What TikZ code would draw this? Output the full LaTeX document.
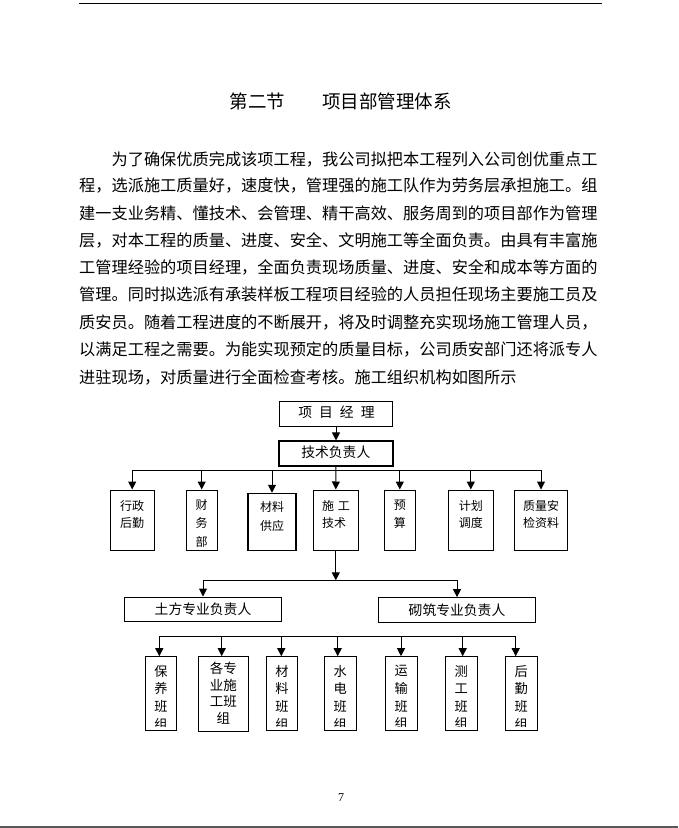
\documentclass[tikz,border=0pt]{standalone}
\usepackage{fontspec}
\newfontfamily\cjk{Noto Sans CJK SC}
\newfontfamily\tnr{Liberation Serif}
\usetikzlibrary{arrows.meta}
\begin{document}
\begin{tikzpicture}[x=1pt,y=-1pt,
  body/.style={inner sep=0pt, anchor=west, font=\cjk\fontsize{16.2pt}{16.2pt}\selectfont},
  box/.style={draw, line width=1.1pt, inner sep=0pt},
  head/.style={inner sep=0pt, font=\cjk\fontsize{13.8pt}{16pt}\selectfont},
  small/.style={inner sep=0pt, align=center, font=\cjk\fontsize{12pt}{17.8pt}\selectfont},
  vert/.style={inner sep=0pt, align=center, font=\cjk\fontsize{13.2pt}{17.6pt}\selectfont},
  ln/.style={line width=1pt},
  arr/.style={line width=1pt, -{Triangle[width=8pt,length=8pt]}}
]
\useasboundingbox (0,0) rectangle (678,828);

% rules
\coordinate (tl) at (79,3.5);
\coordinate (tr) at (602,3.5);
\draw[line width=1pt] (tl) -- (tr);
\coordinate (bl) at (0,826.8);
\coordinate (br) at (678,826.8);
\draw[line width=1.6pt, black!65] (bl) -- (br);

% title
\node[inner sep=0pt, font=\cjk\fontsize{18.5pt}{18.5pt}\selectfont] (title) at (340.5,101) {第二节　　项目部管理体系};

% body text
\node[body] (p1) at (111.4,159) {为了确保优质完成该项工程，我公司拟把本工程列入公司创优重点工};
\node[body] (p2) at (79,186) {程，选派施工质量好，速度快，管理强的施工队作为劳务层承担施工。组};
\node[body] (p3) at (79,213) {建一支业务精、懂技术、会管理、精干高效、服务周到的项目部作为管理};
\node[body] (p4) at (79,240) {层，对本工程的质量、进度、安全、文明施工等全面负责。由具有丰富施};
\node[body] (p5) at (79,267.5) {工管理经验的项目经理，全面负责现场质量、进度、安全和成本等方面的};
\node[body] (p6) at (79,294.5) {管理。同时拟选派有承装样板工程项目经验的人员担任现场主要施工员及};
\node[body] (p7) at (79,322) {质安员。随着工程进度的不断展开，将及时调整充实现场施工管理人员，};
\node[body] (p8) at (79,349.5) {以满足工程之需要。为能实现预定的质量目标，公司质安部门还将派专人};
\node[body] (p9) at (79,377) {进驻现场，对质量进行全面检查考核。施工组织机构如图所示};

% level 1 and 2
\node[box, minimum width=113.4pt, minimum height=24.3pt] (pm) at (336,413.9) {};
\node[head] (pmt) at (336.5,412.5) {项\hspace{7pt}目\hspace{7pt}经\hspace{7pt}理};
\node[box, minimum width=114pt, minimum height=25pt] (tech) at (336,453.5) {};
\node[head] (techt) at (335.8,452.5) {技术负责人};
\draw[arr] (pm.south) -- (tech.north);

% level 3 boxes
\node[box, minimum width=44.3pt, minimum height=60.3pt] (xz) at (132.2,520.2) {};
\node[box, minimum width=31.3pt, minimum height=60.3pt] (cw) at (201.7,520.2) {};
\node[box, minimum width=48pt, minimum height=57pt] (cl) at (272,521.8) {};
\node[box, minimum width=45pt, minimum height=60.3pt] (sg) at (335.8,520.2) {};
\node[box, minimum width=31pt, minimum height=60.3pt] (ys) at (399.8,520.2) {};
\node[box, minimum width=45pt, minimum height=60.3pt] (jh) at (470.8,520.2) {};
\node[box, minimum width=53.4pt, minimum height=60.3pt] (zl) at (541,520.2) {};

\node[small] (xzt) at (132.2,514.5) {行政\\后勤};
\node[small, font=\cjk\fontsize{12pt}{18.3pt}\selectfont] (cwt) at (201.7,523.3) {财\\务\\部};
\node[small, font=\cjk\fontsize{12pt}{19pt}\selectfont] (clt) at (272,516.5) {材料\\供应};
\node[small, align=left] (sgt) at (336,514.5) {施\hspace{4pt}工\\技术};
\node[small] (yst) at (399.8,514.5) {预\\算};
\node[small] (jht) at (470.8,514.5) {计划\\调度};
\node[small] (zlt) at (541,514.5) {质量安\\检资料};

\coordinate (bus1L) at (132.2,470.3);
\coordinate (bus1R) at (541,470.3);
\draw[ln] (bus1L) -- (bus1R);
\draw[arr] (tech.south) -- (sg.north);
\foreach \n in {xz,cw,cl,ys,jh,zl}
  \draw[arr] (\n.north |- bus1L) -- (\n.north);

% level 4
\node[box, minimum width=157.4pt, minimum height=24.3pt] (tf) at (203,609.2) {};
\node[head] (tft) at (203,609.3) {土方专业负责人};
\node[box, minimum width=157.4pt, minimum height=24.6pt] (qz) at (457,610) {};
\node[head] (qzt) at (457,610) {砌筑专业负责人};

\coordinate (bus2L) at (203,580.3);
\coordinate (bus2R) at (457,580.3);
\draw[ln] (bus2L) -- (bus2R);
\draw[arr] (sg.south) -- (sg.south |- bus2L);
\draw[arr] (bus2L) -- (tf.north);
\draw[arr] (bus2R) -- (qz.north);

% level 5
\node[box, minimum width=31pt, minimum height=73.3pt] (by) at (161.2,693.4) {};
\node[box, minimum width=50pt, minimum height=75pt] (gz) at (223.3,694.2) {};
\node[box, minimum width=30.6pt, minimum height=73.3pt] (cl2) at (282,693.4) {};
\node[box, minimum width=32pt, minimum height=73.3pt] (sd) at (340.3,693.4) {};
\node[box, minimum width=32pt, minimum height=73.3pt] (ys2) at (401.3,693.4) {};
\node[box, minimum width=32pt, minimum height=73.3pt] (cg) at (461.3,693.4) {};
\node[box, minimum width=32pt, minimum height=73.3pt] (hq) at (521.3,693.4) {};

\begin{scope}
  \clip (by.north west) rectangle ([yshift=4pt]by.south east);
  \node[vert] (byt) at (161,697.5) {保\\养\\班\\组};
\end{scope}
\begin{scope}
  \clip (cl2.north west) rectangle ([yshift=4pt]cl2.south east);
  \node[vert] (cl2t) at (282,697.5) {材\\料\\班\\组};
\end{scope}
\begin{scope}
  \clip (sd.north west) rectangle ([yshift=4pt]sd.south east);
  \node[vert] (sdt) at (340.3,697.5) {水\\电\\班\\组};
\end{scope}
\begin{scope}
  \clip (ys2.north west) rectangle ([yshift=4pt]ys2.south east);
  \node[vert] (ys2t) at (401.3,697.5) {运\\输\\班\\组};
\end{scope}
\begin{scope}
  \clip (cg.north west) rectangle ([yshift=4pt]cg.south east);
  \node[vert] (cgt) at (461.3,697.5) {测\\工\\班\\组};
\end{scope}
\begin{scope}
  \clip (hq.north west) rectangle ([yshift=4pt]hq.south east);
  \node[vert] (hqt) at (521.3,697.5) {后\\勤\\班\\组};
\end{scope}
\node[vert, font=\cjk\fontsize{13.5pt}{16.5pt}\selectfont] (gzt) at (223.3,693) {各专\\业施\\工班\\组};

\coordinate (a1) at (159.3,636);
\coordinate (a2) at (221.7,636);
\coordinate (a3) at (281.3,636);
\coordinate (a4) at (337.7,636);
\coordinate (a5) at (401,636);
\coordinate (a6) at (462.7,636);
\coordinate (a7) at (515.7,636);
\draw[ln] (a1) -- (a7);
\draw[arr] (a1) -- (a1 |- by.north);
\draw[arr] (a2) -- (a2 |- gz.north);
\draw[arr] (a3) -- (a3 |- cl2.north);
\draw[arr] (a4) -- (a4 |- sd.north);
\draw[arr] (a5) -- (a5 |- ys2.north);
\draw[arr] (a6) -- (a6 |- cg.north);
\draw[arr] (a7) -- (a7 |- hq.north);

% page number
\node[inner sep=0pt, font=\tnr\fontsize{12pt}{12pt}\selectfont] (pg) at (341,798) {7};
\end{tikzpicture}
\end{document}
